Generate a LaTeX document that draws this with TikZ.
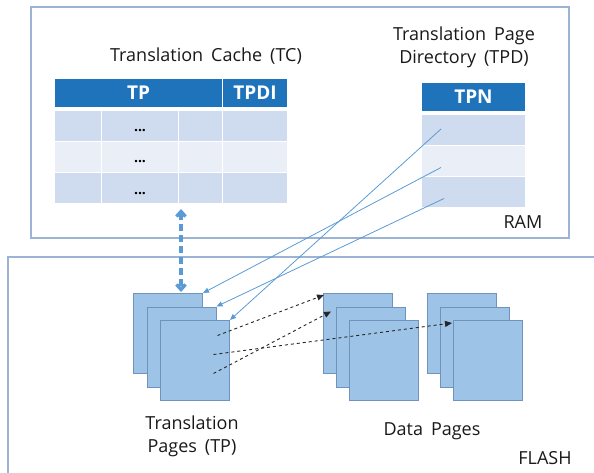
\documentclass[tikz,border=0pt]{standalone}
\usepackage{fontspec}
\setmainfont{Open Sans}[WordSpace=1.7]
\usetikzlibrary{arrows.meta,calc}

\definecolor{boxline}{HTML}{9BB3D4}
\definecolor{hdrblue}{HTML}{1F73BA}
\definecolor{rowdark}{HTML}{CFDBEE}
\definecolor{rowlight}{HTML}{E9EEF7}
\definecolor{pagefill}{HTML}{9DC3E6}
\definecolor{pageline}{HTML}{6F93BC}
\definecolor{linkblue}{HTML}{5B9BD5}

\tikzset{
  hdr/.style={fill=hdrblue, draw=white, line width=1pt, text=white, inner sep=0pt,
    anchor=north west, minimum height=29pt, font=\fontsize{19}{20}\selectfont\bfseries},
  cell/.style={draw=white, line width=1pt, inner sep=0pt, anchor=north west,
    minimum height=31pt, text height=12pt, text depth=0pt, font=\fontsize{14}{16}\selectfont\bfseries},
  page/.style={draw=pageline, fill=pagefill, line width=1pt, minimum width=69pt,
    minimum height=80pt, inner sep=0pt, anchor=north west},
  lbl/.style={font=\fontsize{18}{23}\selectfont, align=center, text=black!90, inner sep=0pt},
  tpdlink/.style={draw=linkblue, line width=0.8pt, -{Triangle[length=6pt,width=5pt]}},
  datalink/.style={draw=black!85, dashed, line width=0.9pt, -{Triangle[length=7pt,width=6pt]}},
  cacheio/.style={draw=linkblue, line width=3.4pt, dash pattern=on 7pt off 4pt,
    {Straight Barb[length=5pt,width=9pt]}-{Straight Barb[length=5pt,width=9pt]}},
}

\begin{document}
\begin{tikzpicture}[x=1pt, y=-1pt]
	\useasboundingbox (0,0) rectangle (594,473);

	% RAM and FLASH areas
	\draw[boxline, line width=1.2pt] (31,7) rectangle (569,238);
	\node[lbl, anchor=base] (ram) at (523,229) {RAM};
	\draw[boxline, line width=1.2pt] (594,257) -- (8,257) -- (8,473);
	\node[lbl, anchor=base] (flash) at (545,464) {FLASH};

	% Translation cache
	\node[lbl, anchor=base] (tctitle) at (206,62) {Translation Cache (TC)};
	\node[hdr, minimum width=168pt] (tch-tp) at (54,78) {TP};
	\node[hdr, minimum width=65pt] (tch-tpdi) at (222,78) {TPDI};
	\foreach \r/\y/\c in {1/110/rowdark, 2/141/rowlight, 3/172/rowdark} {
		\node[cell, fill=\c, minimum width=47pt] (tc\r-a) at (54,\y) {};
		\node[cell, fill=\c, minimum width=77pt] (tc\r-b) at (101,\y) {...};
		\node[cell, fill=\c, minimum width=44pt] (tc\r-c) at (178,\y) {};
		\node[cell, fill=\c, minimum width=65pt] (tc\r-d) at (222,\y) {};
	}

	% Translation page directory
	\node[lbl] (tpdtitle) at (464,47) {Translation Page\\Directory (TPD)};
	\node[hdr, minimum width=104pt] (tpnh) at (421,82) {TPN};
	\foreach \r/\y/\c in {1/114/rowdark, 2/145/rowlight, 3/176/rowdark}
		\node[cell, fill=\c, minimum width=104pt] (tpn\r) at (421,\y) {};

	% Translation pages
	\node[page] (tp1) at (133,293) {};
	\node[page] (tp2) at (146.5,306.5) {};
	\node[page] (tp3) at (160,320) {};
	\node[lbl] (tplabel) at (192,436) {Translation\\Pages (TP)};

	% Data pages
	\node[page] (dp1) at (323,293) {};
	\node[page] (dp2) at (336,306.5) {};
	\node[page] (dp3) at (349,320) {};
	\node[page] (dq1) at (427,293) {};
	\node[page] (dq2) at (440,306.5) {};
	\node[page] (dq3) at (453,320) {};
	\node[lbl, anchor=base] (dplabel) at (432,435) {Data Pages};

	% Cache <-> flash
	\draw[cacheio] ($(tc3-c.south west)+(3,5)$) -- ($(tc3-c.south west |- tp1.north)+(3,-1)$);

	% Directory entries point to translation pages
	\coordinate (tpnptr1) at ($(tpn1.west)+(20,-1)$);
	\coordinate (tpnptr2) at ($(tpn2.west)+(20,6.5)$);
	\coordinate (tpnptr3) at ($(tpn3.west)+(23,6.5)$);
	\draw[tpdlink] (tpnptr1) -- (tp3.north east);
	\draw[tpdlink] (tpnptr2) -- (tp1.north east);
	\draw[tpdlink] (tpnptr3) -- (tp2.north east);

	% Translation entries point to data pages
	\coordinate (tpptr1) at ($(tp3.center)+(22.5,-25)$);
	\coordinate (tpptr2) at ($(tp3.center)+(18.5,-6)$);
	\coordinate (tpptr3) at ($(tp3.center)+(18.5,13)$);
	\draw[datalink] (tpptr1) -- ($(dp1.north west)+(1,2)$);
	\draw[datalink] (tpptr3) -- ($(dp2.north west)+(-5,5)$);
	\draw[datalink] (tpptr2) -- ($(dq3.north west)+(-1,3)$);
\end{tikzpicture}
\end{document}
